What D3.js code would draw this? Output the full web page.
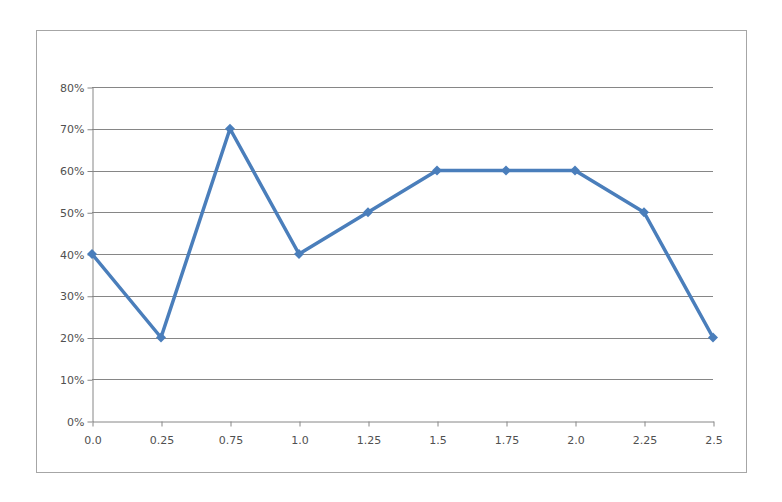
<!DOCTYPE html>
<html><head><meta charset="utf-8">
<script src="https://cdn.jsdelivr.net/npm/d3@7"></script>
<style>body{margin:0;background:#fff}svg{display:block}</style>
</head><body>
<svg id="chart" width="782" height="502"></svg>
<script>
const categories = ['0.0', '0.25', '0.75', '1.0', '1.25', '1.5', '1.75', '2.0', '2.25', '2.5'];
const values = [0.40, 0.20, 0.70, 0.40, 0.50, 0.60, 0.60, 0.60, 0.50, 0.20];
const yTicks = [0, 0.1, 0.2, 0.3, 0.4, 0.5, 0.6, 0.7, 0.8];

const svg = d3.select('#chart');
const font = "Tahoma, 'DejaVu Sans', sans-serif";

svg.append('rect')
  .attr('x', 36.5).attr('y', 30.5).attr('width', 710).attr('height', 442)
  .attr('fill', '#fff').attr('stroke', '#a6a6a6');

const x = d3.scalePoint().domain(categories).range([92, 713]);
const y = d3.scaleLinear().domain([0, 0.8]).range([421, 87]);

// gridlines
svg.append('g').selectAll('line').data(yTicks.slice(1)).join('line')
  .attr('x1', 92).attr('x2', 713)
  .attr('y1', d => Math.round(y(d)) + 0.5).attr('y2', d => Math.round(y(d)) + 0.5)
  .attr('stroke', '#868686');

const yAxis = svg.append('g').attr('transform', 'translate(92.5,0.5)')
  .call(d3.axisLeft(y).tickValues(yTicks).tickFormat(d3.format('.0%')).tickSize(5).tickSizeOuter(0));
const xAxis = svg.append('g').attr('transform', 'translate(0.5,421.5)')
  .call(d3.axisBottom(x).tickSize(5).tickSizeOuter(0));

[yAxis, xAxis].forEach(g => {
  g.select('.domain').attr('stroke', '#868686');
  g.selectAll('.tick line').attr('stroke', '#868686');
  g.selectAll('text').attr('fill', '#505050').style('font-family', font).style('font-size', '11px');
});
xAxis.selectAll('text').attr('dy', '1.3em');

const line = d3.line().x((d, i) => x(categories[i])).y(d => y(d));
svg.append('path').datum(values)
  .attr('d', line).attr('fill', 'none')
  .attr('stroke', '#4a7ebb').attr('stroke-width', 3.5).attr('stroke-linejoin', 'round');

svg.append('g').selectAll('path').data(values).join('path')
  .attr('d', d3.symbol(d3.symbolSquare, 50))
  .attr('transform', (d, i) => `translate(${x(categories[i])},${y(d)}) rotate(45)`)
  .attr('fill', '#4a7ebb');
</script>
</body></html>
